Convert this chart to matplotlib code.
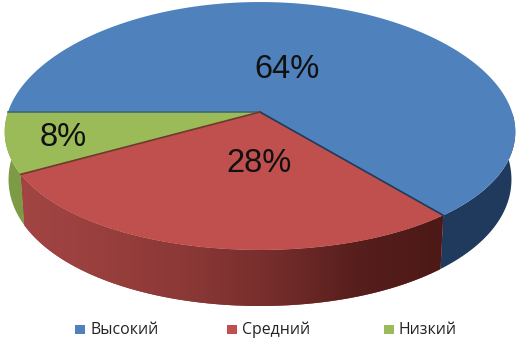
#!/usr/bin/env python
# 3D-look pie chart, drawn from the shares with a simple perspective projection
import matplotlib
matplotlib.use("Agg")
import matplotlib.pyplot as plt
import numpy as np
from matplotlib.colors import LinearSegmentedColormap
from matplotlib.patches import Polygon, Rectangle

labels = ["Высокий", "Средний", "Низкий"]
shares = [64, 28, 8]
colors = ["#4f81bd", "#c0504d", "#9bbb59"]
side_colors = ["#1f3a5c", "#8a3a38", "#7d9a45"]
edge_colors = ["#3f6a70", "#1f3a5c", "#6e3a2a"]

cx, cy = 260, 112
rx, ry = 252, 122.4
kx, ky = 0.16, 0.113
start_angle = 180


def top_point(theta):
    # theta in degrees, clockwise seen from above means decreasing angle
    u, v = np.cos(np.radians(theta)), -np.sin(np.radians(theta))
    return cx + rx * u / (1 - kx * v), cy + ry * v / (1 - ky * v)


def bottom_point(theta):
    x, y = top_point(theta)
    v = -np.sin(np.radians(theta))
    return cx + (x - cx) * 0.985, y + 46 + 10 * v


fig = plt.figure(figsize=(5.23, 3.42), dpi=100)
ax = fig.add_axes([0, 0, 1, 1])

bounds = start_angle - np.cumsum([0] + shares) * 3.6

# side walls first, only the part facing the viewer (sin < 0)
for i in range(3):
    a0, a1 = bounds[i], bounds[i + 1]
    th = np.linspace(a0, a1, 200)
    th = th[np.sin(np.radians(th)) <= 0.12] if i != 0 else th[np.sin(np.radians(th)) <= 0.0]
    if len(th) == 0:
        continue
    top = np.array([top_point(t) for t in th])
    bot = np.array([bottom_point(t) for t in th])
    poly = Polygon(np.vstack([top, bot[::-1]]), closed=True, fc=side_colors[i], ec="none", zorder=1)
    ax.add_patch(poly)
    if i == 1:
        cmap = LinearSegmentedColormap.from_list(
            "red_side", ["#a24543", "#983f3d", "#8a3836", "#742d2b", "#561e1c", "#4c1917"])
        grad = ax.imshow(np.linspace(0, 1, 256).reshape(1, -1), cmap=cmap, aspect="auto",
                         extent=(top[:, 0].min(), top[:, 0].max(), 342, 0), zorder=2)
        grad.set_clip_path(poly)

# top face
for i in range(3):
    th = np.linspace(bounds[i], bounds[i + 1], 200)
    arc = np.array([top_point(t) for t in th])
    ax.add_patch(Polygon(np.vstack([[cx, cy], arc]), closed=True, fc=colors[i], ec="none", zorder=3))

# dark lines along the slice borders
for i in range(3):
    x, y = top_point(bounds[i])
    ax.plot([cx, x], [cy, y], color=edge_colors[i], lw=1.2, zorder=4)

# value labels
ax.text(287, 70, f"{shares[0]}%", fontsize=23.5, family="Liberation Sans", color="#111111", ha="center", va="center", zorder=5)
ax.text(259, 164, f"{shares[1]}%", fontsize=23.5, family="Liberation Sans", color="#111111", ha="center", va="center", zorder=5)
ax.text(63, 138, f"{shares[2]}%", fontsize=23.5, family="Liberation Sans", color="#111111", ha="center", va="center", zorder=5)

# legend by hand, the entries are spread wide
legend_x = [75, 227, 384]
for i in range(3):
    ax.add_patch(Rectangle((legend_x[i], 325), 10, 9, fc=colors[i], ec="none"))
    ax.text(legend_x[i] + 15, 329.5, labels[i], fontsize=11.4, family="Open Sans", color="#222222", ha="left", va="center")

ax.set_xlim(0, 523)
ax.set_ylim(342, 0)
ax.axis("off")

fig.savefig("out.png", dpi=100)
